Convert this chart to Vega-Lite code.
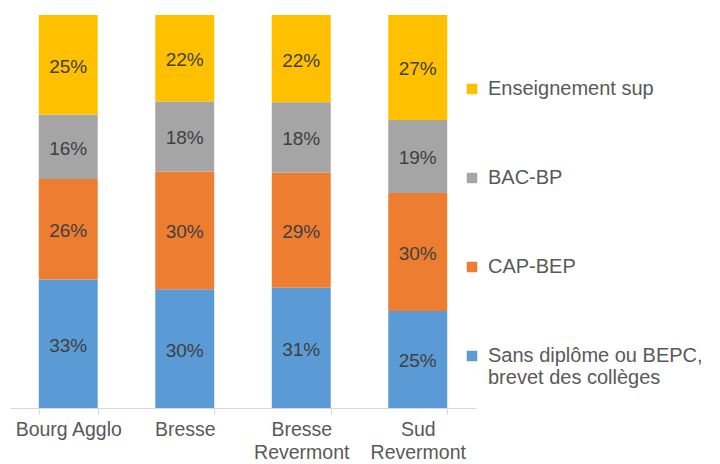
{
  "$schema": "https://vega.github.io/schema/vega-lite/v6.json",
  "width": 466,
  "height": 393,
  "autosize": {"type": "none"},
  "padding": {"left": 10, "top": 15, "right": 244, "bottom": 56},
  "config": {
    "view": {"stroke": null},
    "font": "Liberation Sans"
  },
  "data": {
    "values": [
      {"zone": "Bourg Agglo", "niveau": "Sans diplôme ou BEPC, brevet des collèges", "rank": 1, "value": 0.327},
      {"zone": "Bourg Agglo", "niveau": "CAP-BEP", "rank": 2, "value": 0.256},
      {"zone": "Bourg Agglo", "niveau": "BAC-BP", "rank": 3, "value": 0.164},
      {"zone": "Bourg Agglo", "niveau": "Enseignement sup", "rank": 4, "value": 0.253},
      {"zone": "Bresse", "niveau": "Sans diplôme ou BEPC, brevet des collèges", "rank": 1, "value": 0.302},
      {"zone": "Bresse", "niveau": "CAP-BEP", "rank": 2, "value": 0.300},
      {"zone": "Bresse", "niveau": "BAC-BP", "rank": 3, "value": 0.178},
      {"zone": "Bresse", "niveau": "Enseignement sup", "rank": 4, "value": 0.220},
      {"zone": "Bresse Revermont", "niveau": "Sans diplôme ou BEPC, brevet des collèges", "rank": 1, "value": 0.306},
      {"zone": "Bresse Revermont", "niveau": "CAP-BEP", "rank": 2, "value": 0.293},
      {"zone": "Bresse Revermont", "niveau": "BAC-BP", "rank": 3, "value": 0.179},
      {"zone": "Bresse Revermont", "niveau": "Enseignement sup", "rank": 4, "value": 0.222},
      {"zone": "Sud Revermont", "niveau": "Sans diplôme ou BEPC, brevet des collèges", "rank": 1, "value": 0.247},
      {"zone": "Sud Revermont", "niveau": "CAP-BEP", "rank": 2, "value": 0.300},
      {"zone": "Sud Revermont", "niveau": "BAC-BP", "rank": 3, "value": 0.186},
      {"zone": "Sud Revermont", "niveau": "Enseignement sup", "rank": 4, "value": 0.267}
    ]
  },
  "encoding": {
    "x": {
      "field": "zone",
      "type": "nominal",
      "sort": null,
      "scale": {"paddingInner": 0.494, "paddingOuter": 0.247},
      "axis": {
        "title": null,
        "labelAngle": 0,
        "labelFontSize": 19.5,
        "labelColor": "#595959",
        "labelPadding": 6,
        "labelLineHeight": 23,
        "labelExpr": "datum.label == 'Bourg Agglo' ? datum.label : split(datum.label, ' ')",
        "domainColor": "#d9d9d9",
        "tickColor": "#d9d9d9",
        "tickBand": "extent",
        "tickSize": 6
      }
    },
    "y": {
      "field": "value",
      "type": "quantitative",
      "stack": "normalize",
      "axis": null
    },
    "order": {"field": "rank", "type": "quantitative"}
  },
  "layer": [
    {
      "mark": {"type": "bar"},
      "encoding": {
        "color": {
          "field": "niveau",
          "type": "nominal",
          "scale": {
            "domain": ["Enseignement sup", "BAC-BP", "CAP-BEP", "Sans diplôme ou BEPC, brevet des collèges"],
            "range": ["#FFC000", "#A5A5A5", "#ED7D31", "#5B9BD5"]
          },
          "legend": {
            "title": null,
            "orient": "none",
            "legendX": 452,
            "legendY": 64,
            "symbolType": "square",
            "symbolSize": 110,
            "symbolStrokeWidth": 0,
            "labelFontSize": 20,
            "labelColor": "#595959",
            "labelOffset": 6,
            "labelLimit": 300,
            "labelLineHeight": 25,
            "rowPadding": 69,
            "labelExpr": "datum.label == 'Sans diplôme ou BEPC, brevet des collèges' ? ['Sans diplôme ou BEPC,', 'brevet des collèges'] : datum.label"
          }
        }
      }
    },
    {
      "mark": {"type": "text", "fontSize": 19, "color": "#404040", "dy": 2},
      "encoding": {
        "y": {
          "field": "value",
          "type": "quantitative",
          "stack": "normalize",
          "bandPosition": 0.5
        },
        "text": {"field": "value", "type": "quantitative", "format": ".0%"}
      }
    }
  ]
}
